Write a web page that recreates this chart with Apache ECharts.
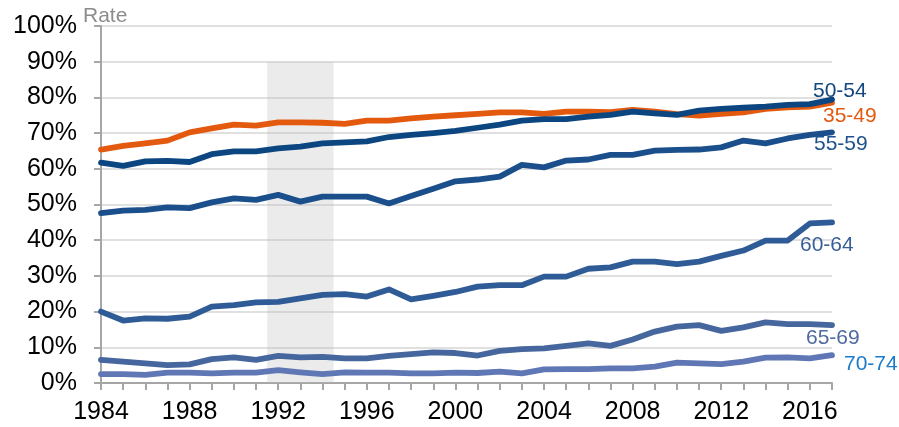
<!DOCTYPE html>
<html>
<head>
<meta charset="utf-8">
<script src="https://cdn.jsdelivr.net/npm/echarts@6/dist/echarts.min.js"></script>
<style>
html,body{margin:0;padding:0;background:#fff;}
#chart{width:899px;height:427px;}
</style>
</head>
<body>
<div id="chart"></div>
<script>
const years = [1984,1985,1986,1987,1988,1989,1990,1991,1992,1993,1994,1995,1996,1997,1998,1999,2000,2001,2002,2003,2004,2005,2006,2007,2008,2009,2010,2011,2012,2013,2014,2015,2016,2017];
const r3549 = [65.4,66.4,67.1,67.9,70.2,71.3,72.4,72.1,73.0,73.0,72.9,72.6,73.5,73.5,74.1,74.6,75.0,75.4,75.8,75.8,75.4,76.0,76.0,75.9,76.5,76.0,75.3,74.9,75.4,75.8,76.8,77.2,77.4,78.5];
const r5054 = [61.7,60.8,62.1,62.2,61.9,64.1,64.9,64.9,65.7,66.2,67.1,67.4,67.7,68.9,69.5,70.0,70.6,71.5,72.4,73.5,73.9,73.9,74.6,75.1,76.0,75.5,75.1,76.3,76.8,77.1,77.4,77.9,78.1,79.4];
const r5559 = [47.6,48.3,48.5,49.2,49.0,50.6,51.7,51.3,52.7,50.8,52.2,52.2,52.2,50.3,52.4,54.4,56.5,57.0,57.8,61.1,60.4,62.3,62.6,63.9,63.9,65.1,65.3,65.4,66.0,67.9,67.1,68.5,69.5,70.2];
const r6064 = [20.0,17.5,18.1,18.0,18.6,21.4,21.8,22.6,22.7,23.7,24.7,24.9,24.2,26.2,23.4,24.4,25.5,27.0,27.4,27.4,29.8,29.8,32.0,32.4,34.0,34.0,33.3,34.0,35.6,37.1,39.9,39.9,44.7,45.0];
const r6569 = [6.5,6.0,5.5,5.0,5.2,6.7,7.2,6.5,7.6,7.2,7.3,6.9,6.9,7.6,8.1,8.6,8.4,7.7,9.0,9.5,9.7,10.4,11.1,10.4,12.2,14.4,15.8,16.2,14.6,15.6,17.0,16.5,16.5,16.2];
const r7074 = [2.5,2.5,2.3,2.9,2.9,2.7,2.9,2.9,3.6,3.0,2.5,3.0,2.9,2.9,2.7,2.7,2.9,2.8,3.2,2.7,3.8,3.9,3.9,4.1,4.1,4.6,5.7,5.5,5.3,6.0,7.1,7.2,6.9,7.8];
const seriesNames = ['35-49','50-54','55-59','60-64','65-69','70-74'];
const yTicks = [0,10,20,30,40,50,60,70,80,90,100];
const recession = [1991.5, 1994.5, 90];

const FONT = 'Liberation Sans, Arial, sans-serif';
const pairs = arr => years.map((y,i)=>[y, arr[i]]);

function mk(name, arr, color, labelColor, offset, extra) {
  return Object.assign({
    name: name,
    type: 'line',
    data: pairs(arr),
    showSymbol: false,
    symbol: 'none',
    lineStyle: {color: color, width: 5.8, cap: 'round', join: 'round'},
    itemStyle: {color: color},
    silent: true,
    endLabel: {
      show: true,
      formatter: name,
      color: labelColor,
      fontSize: 21,
      fontFamily: FONT,
      offset: offset,
      distance: 5
    }
  }, extra || {});
}

const chart = echarts.init(document.getElementById('chart'), null, {renderer: 'canvas'});
chart.setOption({
  animation: false,
  backgroundColor: '#ffffff',
  textStyle: {fontFamily: FONT},
  title: {
    text: 'Rate', left: 78, top: 1,
    textStyle: {fontFamily: FONT, fontSize: 21, fontWeight: 'normal', color: '#8c8c8c'}
  },
  grid: {left: 101, right: 67, top: 26, bottom: 44, containLabel: false},
  xAxis: {
    type: 'value', min: years[0], max: years[years.length-1], interval: 1,
    axisLine: {show: true, lineStyle: {color: '#a6a6a6', width: 2}},
    axisTick: {show: true, length: 7, lineStyle: {color: '#a6a6a6', width: 2}},
    splitLine: {show: false},
    axisLabel: {
      fontSize: 25, color: '#000', fontFamily: FONT, margin: 17, hideOverlap: false,
      showMinLabel: true, showMaxLabel: true,
      formatter: v => (v % 4 === 0 ? String(v) : '')
    }
  },
  yAxis: {
    type: 'value', min: yTicks[0], max: yTicks[yTicks.length-1], interval: 10,
    axisLine: {show: true, lineStyle: {color: '#a6a6a6', width: 2}},
    axisTick: {show: true, length: 7, lineStyle: {color: '#a6a6a6', width: 2}},
    splitLine: {show: true, lineStyle: {color: '#e0e0e0', width: 2}},
    axisLabel: {fontSize: 25, color: '#000', fontFamily: FONT, margin: 24, formatter: '{value}%'}
  },
  series: [
    mk(seriesNames[0], r3549, '#e35a0f', '#e35a0f', [-14, 13], {
      markArea: {
        silent: true,
        itemStyle: {color: 'rgba(190,190,190,0.3)'},
        data: [[{xAxis: recession[0], yAxis: 0}, {xAxis: recession[1], yAxis: recession[2]}]]
      }
    }),
    mk(seriesNames[1], r5054, '#0c4680', '#12467e', [-24, -8]),
    mk(seriesNames[2], r5559, '#1a4f8b', '#1d528d', [-23, 12]),
    mk(seriesNames[3], r6064, '#2f5c96', '#385f98', [-37, 23]),
    mk(seriesNames[4], r6569, '#46679e', '#4e6aa0', [-31, 13]),
    mk(seriesNames[5], r7074, '#5f77b4', '#1b7bc8', [7, 9])
  ]
});
</script>
</body>
</html>
